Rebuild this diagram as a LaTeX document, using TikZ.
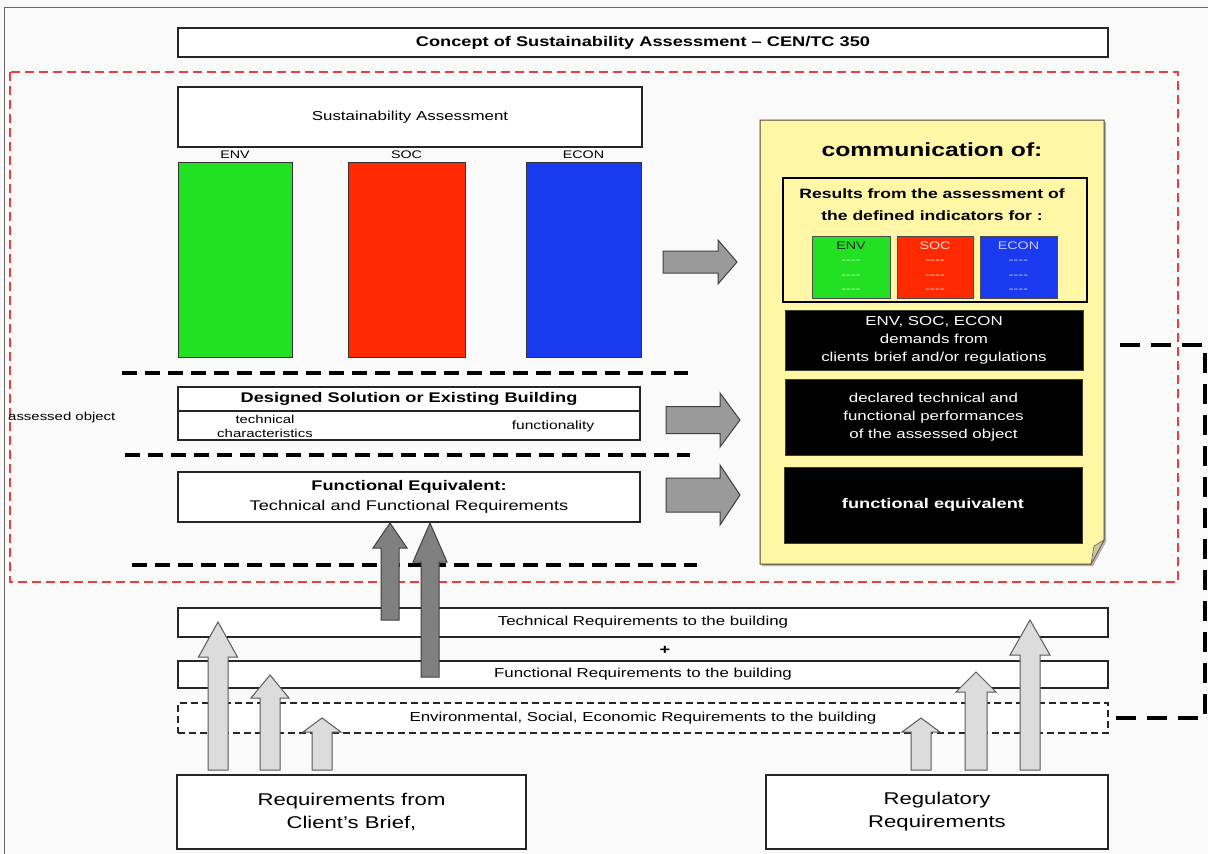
\documentclass[tikz,border=0pt]{standalone}
\usepackage{fontspec}
\setmainfont{Liberation Sans}[FakeStretch=1.3]
\usetikzlibrary{positioning,calc}

\definecolor{envgreen}{HTML}{22E022}
\definecolor{socred}{HTML}{FF2A00}
\definecolor{econblue}{HTML}{1A3AF0}
\definecolor{notepaper}{HTML}{FFF6A6}
\definecolor{arrowgray}{HTML}{9A9A9A}
\definecolor{darkarrow}{HTML}{808080}
\definecolor{lightarrow}{HTML}{DCDCDC}
\definecolor{framered}{HTML}{EE3B3B}

\newcommand\fsz[2]{\fontsize{#1}{#2}\selectfont}
% block arrows: tail x, tip x, mid y, half shaft, half head, head length
\newcommand\rightblock[6]{%
  \draw[block arrow] ({#1},{#3-#4}) -- ({#2-#6},{#3-#4}) -- ({#2-#6},{#3-#5}) -- ({#2},{#3})
    -- ({#2-#6},{#3+#5}) -- ({#2-#6},{#3+#4}) -- ({#1},{#3+#4}) -- cycle;}
% style, x, tip y, bottom y, half shaft, half head, head length
\newcommand\upblock[7]{%
  \draw[#1] ({#2-#5},{#4}) -- ({#2-#5},{#3+#7}) -- ({#2-#6},{#3+#7}) -- ({#2},{#3})
    -- ({#2+#6},{#3+#7}) -- ({#2+#5},{#3+#7}) -- ({#2+#5},{#4}) -- cycle;}

\tikzset{
  plain box/.style={draw=black!85, line width=1.4pt, fill=white, align=center, inner sep=1pt},
  black box/.style={fill=black, draw=black!70!olive, text=white, align=center, inner sep=1pt},
  column/.style={draw=black!80, line width=1pt, minimum height=195pt,
    label={[font=\fsz{11}{13}, inner sep=1pt, label distance=2pt]above:#1}},
  ind box/.style={draw=black!70, line width=0.8pt, minimum height=62pt, align=center,
    inner sep=1pt, font=\fsz{11}{14.5}},
  level line/.style={line width=3.5pt, dash pattern=on 15pt off 8pt},
  link dash/.style={line width=3.5pt, dash pattern=on 20pt off 11pt},
  block arrow/.style={fill=arrowgray, draw=black!75, line width=1pt},
  dark up/.style={fill=darkarrow, draw=black!75, line width=1pt},
  light up/.style={fill=lightarrow, draw=black!65, line width=1pt}
}

\begin{document}
\begin{tikzpicture}[x=1pt,y=-1pt]
\useasboundingbox (0,0) rectangle (1208,854);
\fill[black!2] (0,0) rectangle (1208,854);
\draw[black!60, line width=1pt] (4,854) -- (4,7) -- (1208,7);

\node[plain box, minimum width=930pt, minimum height=29pt, font=\bfseries\fsz{14}{16}] (title) at (643,42.5) {Concept of Sustainability Assessment -- CEN/TC 350};

\draw[framered, line width=1.5pt, dash pattern=on 9pt off 5pt] (10,72) rectangle (1178,582);

% assessment columns
\node[plain box, minimum width=464pt, minimum height=60pt, font=\fsz{13}{15}] (sustain) at (410,117) {Sustainability Assessment};
\node[column=ENV, fill=envgreen, minimum width=114pt] (envcol) at (235,259.5) {};
\node[column=SOC, fill=socred, minimum width=117pt] (soccol) at (406.5,259.5) {};
\node[column=ECON, fill=econblue, minimum width=115pt] (econcol) at (583.5,259.5) {};

\draw[level line] (122,373) -- (688,373);
\draw[level line] (125,455) -- (690,455);
\draw[level line] (132,565) -- (697,565);

\node[plain box, minimum width=462pt, minimum height=24pt, font=\bfseries\fsz{14}{16}] (design) at (409,399) {Designed Solution or Existing Building};
\node[plain box, minimum width=462pt, minimum height=29pt, below=-1.4pt of design] (designrow) {};
\node[font=\fsz{11.5}{14}, align=center] (techchar) at (265,426) {technical\\characteristics};
\node[font=\fsz{12}{14}] (functy) at (553,426) {functionality};
\node[font=\fsz{11.5}{14}, anchor=west, inner sep=0pt] (assessed) at (8,418) {assessed object};

\node[plain box, minimum width=462pt, minimum height=50pt, font=\fsz{14}{20}] (funceq) at (409,497) {\textbf{Functional Equivalent:}\\Technical and Functional Requirements};

% communication sheet
\fill[black!30] (762,122) -- (1106,122) -- (1106,542) -- (1093,566) -- (762,566) -- cycle;
\draw[black!60!olive, line width=1pt, fill=notepaper] (760,120) -- (1104,120) -- (1104,540) -- (1091,564) -- (760,564) -- cycle;
\filldraw[draw=black!60, fill=notepaper!60!gray, line width=0.6pt] (1104,540) -- (1094,546) -- (1091,564) -- cycle;
\node[font=\bfseries\fsz{19}{22}] (comm) at (932,150) {communication of:};

\node[draw=black, line width=2.5pt, minimum width=304pt, minimum height=124pt] (results) at (935,240) {};
\node[font=\bfseries\fsz{13.5}{22}, align=center] (restext) at (932,205) {Results from the assessment of\\the defined indicators for :};
\node[ind box, fill=envgreen, minimum width=78pt, text=black!85] (envind) at (851,267)
  {ENV\\{\color{green!25!white}-{}-{}-{}-}\\{\color{green!25!white}-{}-{}-{}-}\\{\color{green!25!white}-{}-{}-{}-}};
\node[ind box, fill=socred, minimum width=76pt, text=red!15!white] (socind) at (935,267)
  {SOC\\-{}-{}-{}-\\-{}-{}-{}-\\-{}-{}-{}-};
\node[ind box, fill=econblue, minimum width=77pt, text=blue!20!white] (econind) at (1018.5,267)
  {ECON\\-{}-{}-{}-\\-{}-{}-{}-\\-{}-{}-{}-};

\node[black box, minimum width=298pt, minimum height=60pt, font=\fsz{13}{18}] (demands) at (934,340) {ENV, SOC, ECON\\demands from\\clients brief and/or regulations};
\node[black box, minimum width=297pt, minimum height=76pt, font=\fsz{13}{18}] (declared) at (933.5,417) {declared technical and\\functional performances\\of the assessed object};
\node[black box, minimum width=298pt, minimum height=76pt, font=\bfseries\fsz{14}{16}] (fequiv) at (933,505) {functional equivalent};

% requirements
\node[plain box, minimum width=930pt, minimum height=29pt, font=\fsz{13}{15}] (techreq) at (643,622.5) {Technical Requirements to the building};
\node[font=\bfseries\fsz{14}{15}] (plus) at (665,650) {+};
\node[plain box, minimum width=930pt, minimum height=27pt, font=\fsz{13}{15}] (funcreq) at (643,674.5) {Functional Requirements to the building};
\node[plain box, line width=1.2pt, dash pattern=on 7pt off 4pt, minimum width=930pt, minimum height=30pt, font=\fsz{13}{15}] (envreq) at (643,718) {Environmental, Social, Economic Requirements to the building};

\node[plain box, line width=1.2pt, minimum width=349pt, minimum height=74pt, font=\fsz{17}{23}] (client) at (351.5,812) {Requirements from\\Client's Brief,};
\node[plain box, line width=1.2pt, minimum width=342pt, minimum height=74pt, font=\fsz{17}{23}] (regul) at (937,812) {Regulatory\\Requirements};

\draw[link dash] ($(demands.east)+(37,5)$) -- ++(85,0) |- (envreq.east);

% block arrows
\rightblock{663}{737}{262}{11}{22}{19}
\rightblock{666}{740}{420}{13.5}{27}{20}
\rightblock{666}{740}{495}{17}{30}{20}

\upblock{dark up}{390}{523}{620}{9}{17}{25}
\upblock{dark up}{430}{523}{677}{9}{17}{39}

\upblock{light up}{218}{622}{770}{10}{19.5}{35}
\upblock{light up}{270}{675}{770}{10}{19}{23}
\upblock{light up}{322}{718}{770}{10}{19}{14}
\upblock{light up}{921}{718}{770}{10}{19}{14}
\upblock{light up}{976}{672}{770}{11}{20}{20}
\upblock{light up}{1030}{620}{770}{10}{20}{35}
\end{tikzpicture}
\end{document}
